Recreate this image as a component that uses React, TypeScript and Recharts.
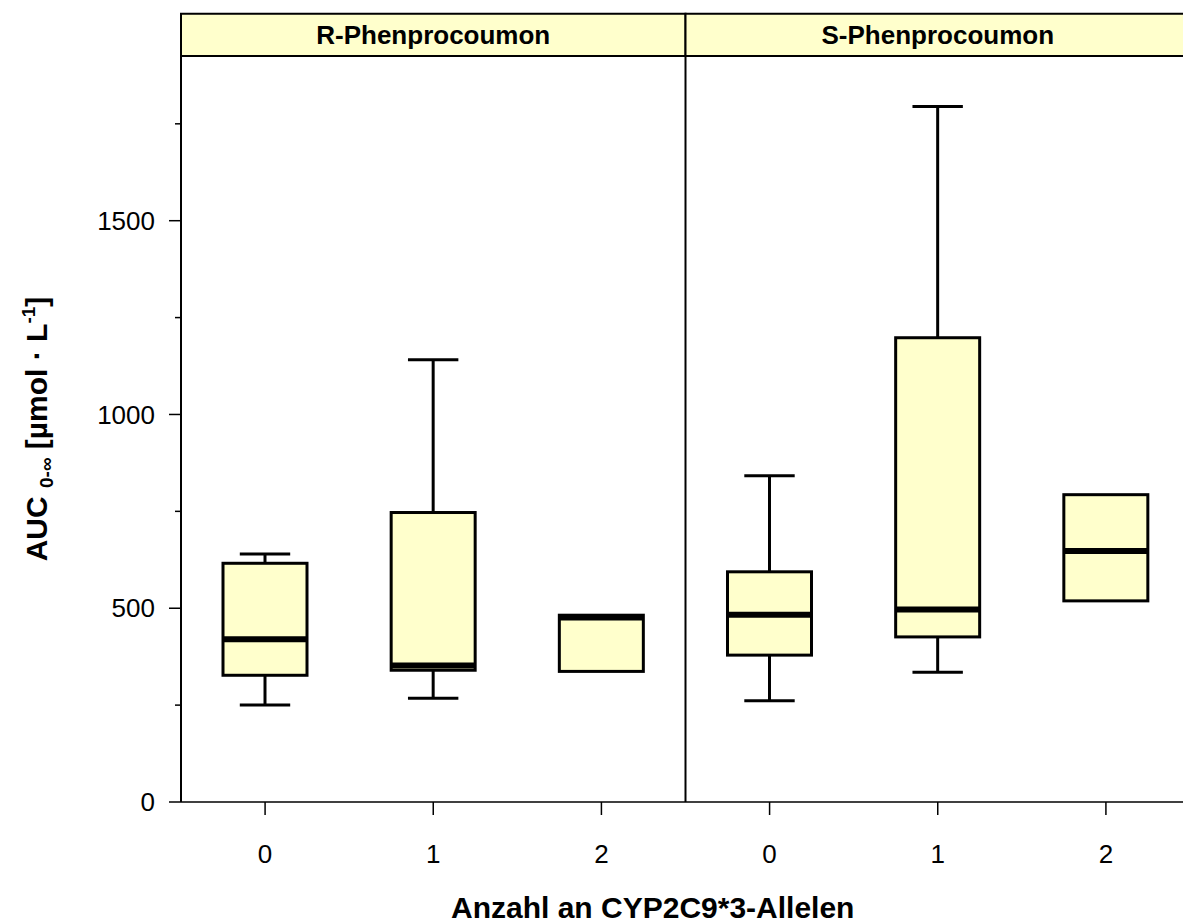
import { BarChart, Bar, XAxis, YAxis, ReferenceArea, ReferenceLine } from "recharts";

const substances = ["R-Phenprocoumon", "S-Phenprocoumon"];
const alleles = ["0", "1", "2"];

// box plot statistics per substance, in allele order 0, 1, 2
const whiskerLow = [
  [250, 268, 337],
  [261, 335, 519],
];
const q1 = [
  [327, 340, 337],
  [379, 426, 519],
];
const median = [
  [420, 352, 476],
  [483, 497, 648],
];
const q3 = [
  [616, 747, 482],
  [594, 1198, 793],
];
const whiskerHigh = [
  [640, 1141, 482],
  [842, 1795, 793],
];

const yTicks = [0, 250, 500, 750, 1000, 1250, 1500, 1750];
const yMax = 1925;
const stripTop = 2034;

const data = substances.flatMap((s, si) =>
  alleles.map((a, ai) => ({
    key: `${si}-${a}`,
    allele: a,
    box: [q1[si][ai], q3[si][ai]],
    lo: whiskerLow[si][ai],
    med: median[si][ai],
    hi: whiskerHigh[si][ai],
  }))
);

const FONT = '"Liberation Sans", Arial, sans-serif';
const FILL = "#FFFFCC";

function BoxShape(props: any) {
  const { x, y, width, height, payload } = props;
  const [lo, up] = payload.box;
  const px = height / (up - lo);
  const toY = (v: number) => y + (up - v) * px;
  const cx = x + width / 2;
  const cap = width * 0.6;
  return (
    <g>
      {payload.hi > up && (
        <g stroke="#000" strokeWidth={3}>
          <line x1={cx} x2={cx} y1={toY(payload.hi)} y2={y} />
          <line x1={cx - cap / 2} x2={cx + cap / 2} y1={toY(payload.hi)} y2={toY(payload.hi)} />
        </g>
      )}
      {payload.lo < lo && (
        <g stroke="#000" strokeWidth={3}>
          <line x1={cx} x2={cx} y1={y + height} y2={toY(payload.lo)} />
          <line x1={cx - cap / 2} x2={cx + cap / 2} y1={toY(payload.lo)} y2={toY(payload.lo)} />
        </g>
      )}
      <rect x={x} y={y} width={width} height={height} fill={FILL} stroke="#000" strokeWidth={3} />
      <line x1={x} x2={x + width} y1={toY(payload.med)} y2={toY(payload.med)} stroke="#000" strokeWidth={6} />
    </g>
  );
}

function YTick(props: any) {
  const { x, y, payload } = props;
  const major = payload.value % 500 === 0;
  return (
    <g>
      <line x1={x - (major ? 12 : 6)} x2={x} y1={y} y2={y} stroke="#000" strokeWidth={1.5} />
      {major && (
        <text x={x - 26} y={y} dy="0.35em" textAnchor="end" fontSize={26} fontFamily={FONT} fill="#000">
          {payload.value}
        </text>
      )}
    </g>
  );
}

function XTick(props: any) {
  const { x, y, index } = props;
  return (
    <g>
      <line x1={x} x2={x} y1={y} y2={y + 13} stroke="#000" strokeWidth={1.5} />
      <text x={x} y={y + 61} textAnchor="middle" fontSize={26} fontFamily={FONT} fill="#000">
        {data[index] ? data[index].allele : ""}
      </text>
    </g>
  );
}

function StripLabel(props: any, text: string) {
  const { x, y, width, height } = props.viewBox;
  return (
    <text x={x + width / 2} y={y + height / 2} dy="0.35em" textAnchor="middle" fontSize={26} fontWeight="bold" fontFamily={FONT} fill="#000">
      {text}
    </text>
  );
}

function YTitle(props: any) {
  const { x, y, height } = props.viewBox;
  const cx = x - 54;
  const cy = y + height / 2;
  return (
    <text transform={`rotate(-90 ${cx} ${cy})`} x={cx} y={cy} textAnchor="middle" fontSize={30} fontWeight="bold" fontFamily={FONT} fill="#000">
      <tspan>AUC </tspan>
      <tspan fontSize={19} dy={6}>0-∞</tspan>
      <tspan dy={-6}> [µmol · L</tspan>
      <tspan fontSize={19} dy={-12}>-1</tspan>
      <tspan dy={12}>]</tspan>
    </text>
  );
}

function XTitle(props: any) {
  const { x, y } = props.viewBox;
  return (
    <text x={x + 270} y={y + 116} fontSize={30} fontWeight="bold" fontFamily={FONT} fill="#000">
      Anzahl an CYP2C9*3-Allelen
    </text>
  );
}

export default function App() {
  return (
    <div style={{ position: "fixed", left: 0, top: 0, width: 1183, height: 924, overflow: "hidden", background: "#fff" }}>
      <BarChart width={1200} height={924} data={data} margin={{ top: 56, right: 10, bottom: 62, left: 101 }}>
        <XAxis
          dataKey="key"
          interval={0}
          height={60}
          tickSize={0}
          tickMargin={0}
          tickLine={false}
          tick={<XTick />}
          axisLine={{ stroke: "#000", strokeWidth: 1.5 }}
          label={{ content: (p: any) => XTitle(p) }}
        />
        <YAxis
          width={80}
          domain={[0, yMax]}
          allowDataOverflow
          ticks={yTicks}
          interval={0}
          tickSize={0}
          tickMargin={0}
          tickLine={false}
          tick={<YTick />}
          axisLine={{ stroke: "#000", strokeWidth: 2 }}
          label={{ content: (p: any) => YTitle(p) }}
        />
        {substances.map((s, si) => (
          <ReferenceArea
            key={s}
            x1={`${si}-${alleles[0]}`}
            x2={`${si}-${alleles[alleles.length - 1]}`}
            y1={yMax}
            y2={stripTop}
            ifOverflow="visible"
            fill={FILL}
            fillOpacity={1}
            stroke="#000"
            strokeWidth={2}
            label={{ content: (p: any) => StripLabel(p, s) }}
          />
        ))}
        <ReferenceLine x={`1-${alleles[0]}`} position="start" stroke="#000" strokeWidth={2} />
        <Bar dataKey="box" barSize={84} shape={<BoxShape />} isAnimationActive={false} />
      </BarChart>
    </div>
  );
}
